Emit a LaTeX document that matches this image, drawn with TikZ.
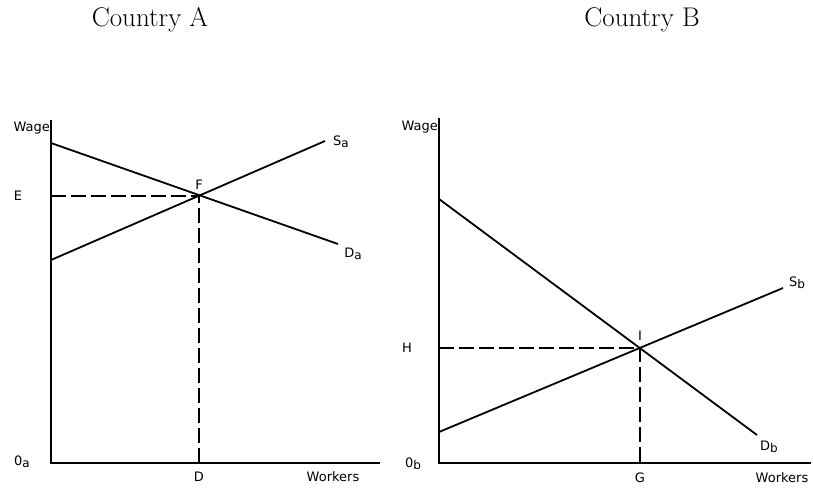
\documentclass[tikz,border=0pt]{standalone}
\usepackage{fontspec}
\usepackage{tikz}
\usetikzlibrary{positioning}
\newfontfamily\plotfont{DejaVu Sans}
\newcommand{\lowsub}[1]{\raisebox{-0.3ex}{\fontsize{12}{12}\selectfont #1}}

\begin{document}
\begin{tikzpicture}[
  x=1pt,y=-1pt,
  title/.style={font=\fontsize{27}{30}\selectfont,inner sep=0pt},
  tag/.style={font=\plotfont\fontsize{13}{14}\selectfont,inner sep=0pt},
  axis/.style={line width=1.8pt},
  curve/.style={line width=1.8pt},
  guide/.style={line width=1.4pt,dash pattern=on 15pt off 5pt}
]
\useasboundingbox (0,0) rectangle (813,491);

% titles
\node[title] (titleA) at (150,20) {Country A};
\node[title] (titleB) at (642,20) {Country B};

% country A
\coordinate (oA) at (51,463);
\coordinate (yA) at (51,120);
\coordinate (xA) at (380,463);
\coordinate (dA0) at (51,143);
\coordinate (dA1) at (338,244);
\coordinate (sA0) at (51,260);
\coordinate (sA1) at (325,141);
\coordinate (F) at (199,196);
\coordinate (E) at (51,196);
\coordinate (D) at (199,463);

\draw[axis] (yA) -- (oA) -- (xA);
\draw[curve] (dA0) -- (dA1);
\draw[curve] (sA0) -- (sA1);
\draw[guide] (E) -- (F) -- (D);

\node[tag,anchor=east] (wageA) at (50,128) {Wage};
\node[tag] (labE) at (18,196) {E};
\node[tag] (labOA) at (22,462) {0\lowsub{a}};
\node[tag] (labD) at (199,477) {D};
\node[tag] (workA) at (333,477) {Workers};
\node[tag] (labSA) at (341,142) {S\lowsub{a}};
\node[tag] (labDA) at (353,254) {D\lowsub{a}};
\node[tag] (labF) at (199,185) {F};

% country B
\coordinate (oB) at (439,463);
\coordinate (yB) at (439,118);
\coordinate (xB) at (811,463);
\coordinate (dB0) at (439,199);
\coordinate (dB1) at (757,435);
\coordinate (sB0) at (439,432);
\coordinate (sB1) at (783,288);
\coordinate (I) at (640,348);
\coordinate (H) at (439,348);
\coordinate (G) at (640,463);

\draw[axis] (yB) -- (oB) -- (xB);
\draw[curve] (dB0) -- (dB1);
\draw[curve] (sB0) -- (sB1);
\draw[guide] (H) -- (I) -- (G);

\node[tag,anchor=east] (wageB) at (438,127) {Wage};
\node[tag] (labH) at (407,348) {H};
\node[tag] (labOB) at (413,464) {0\lowsub{b}};
\node[tag] (labG) at (640,478) {G};
\node[tag] (workB) at (782,478) {Workers};
\node[tag] (labSB) at (797,283) {S\lowsub{b}};
\node[tag] (labDB) at (769,447) {D\lowsub{b}};
\node[tag] (labI) at (640,336) {I};
\end{tikzpicture}
\end{document}
